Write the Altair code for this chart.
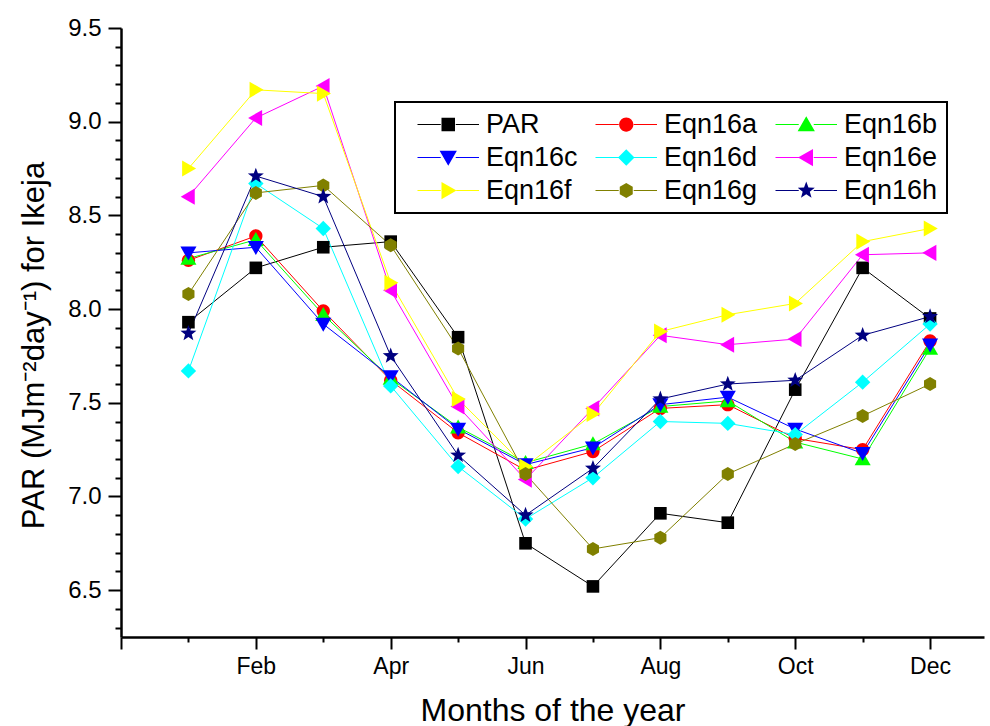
import math
import altair as alt
import pandas as pd

# ---------------- data ----------------
months = ["Jan", "Feb", "Mar", "Apr", "May", "Jun", "Jul", "Aug", "Sep", "Oct", "Nov", "Dec"]
month_num = list(range(1, 13))
series_names = ["PAR", "Eqn16a", "Eqn16b", "Eqn16c", "Eqn16d", "Eqn16e", "Eqn16f", "Eqn16g", "Eqn16h"]

par    = [7.93, 8.22, 8.33, 8.36, 7.85, 6.75, 6.52, 6.91, 6.86, 7.57, 8.22, 7.95]
eqn16a = [8.26, 8.39, 7.99, 7.62, 7.34, 7.14, 7.24, 7.47, 7.49, 7.31, 7.25, 7.83]
eqn16b = [8.27, 8.37, 7.97, 7.63, 7.37, 7.18, 7.28, 7.48, 7.51, 7.29, 7.20, 7.79]
eqn16c = [8.30, 8.33, 7.92, 7.64, 7.36, 7.17, 7.26, 7.49, 7.53, 7.36, 7.23, 7.81]
eqn16d = [7.67, 8.67, 8.43, 7.59, 7.16, 6.88, 7.10, 7.40, 7.39, 7.33, 7.61, 7.92]
eqn16e = [8.60, 9.02, 9.19, 8.10, 7.48, 7.09, 7.47, 7.86, 7.81, 7.84, 8.29, 8.30]
eqn16f = [8.75, 9.17, 9.15, 8.14, 7.52, 7.16, 7.44, 7.88, 7.97, 8.03, 8.36, 8.43]
eqn16g = [8.08, 8.62, 8.66, 8.34, 7.79, 7.12, 6.72, 6.78, 7.12, 7.28, 7.43, 7.60]
eqn16h = [7.87, 8.71, 8.60, 7.75, 7.22, 6.90, 7.15, 7.52, 7.60, 7.62, 7.86, 7.96]

series_values = [par, eqn16a, eqn16b, eqn16c, eqn16d, eqn16e, eqn16f, eqn16g, eqn16h]
colors = ["#000000", "#FF0000", "#00FF00", "#0000FF", "#00FFFF",
          "#FF00FF", "#FFFF00", "#808000", "#000080"]

x_major = [0, 2, 4, 6, 8, 10, 12]
x_minor = [1, 3, 5, 7, 9, 11]
y_major = [6.5, 7.0, 7.5, 8.0, 8.5, 9.0, 9.5]
y_minor = [round(6.3 + 0.1 * i, 1) for i in range(32) if round(6.3 + 0.1 * i, 1) not in y_major]

rows = []
for name, vals in zip(series_names, series_values):
    for m, v in zip(month_num, vals):
        rows.append({"series": name, "month": m, "value": v})
df = pd.DataFrame(rows)

# ---------------- marker shapes (unit box) ----------------
def poly(pts, dx=0.0):
    return "M" + "L".join(f"{x + dx:.3f},{y:.3f}" for x, y in pts) + "Z"

star_pts = []
for k in range(10):
    ang = -math.pi / 2 + k * math.pi / 5
    rr = 1.2 if k % 2 == 0 else 0.5
    star_pts.append((rr * math.cos(ang), rr * math.sin(ang)))

sq_pts = [(-0.9, -0.9), (0.9, -0.9), (0.9, 0.9), (-0.9, 0.9)]
tu_pts = [(0, -1.1), (1.15, 0.9), (-1.15, 0.9)]
td_pts = [(0, 1.1), (1.15, -0.9), (-1.15, -0.9)]
di_pts = [(0, -1.1), (1.1, 0), (0, 1.1), (-1.1, 0)]
tl_pts = [(-1.1, 0), (0.9, -1.15), (0.9, 1.15)]
tr_pts = [(1.1, 0), (-0.9, -1.15), (-0.9, 1.15)]
hx_pts = [(0, -1.0), (0.866, -0.5), (0.866, 0.5), (0, 1.0), (-0.866, 0.5), (-0.866, -0.5)]


def circle(dx=0.0):
    return (f"M{-0.95 + dx:.3f},0A0.95,0.95,0,1,0,{0.95 + dx:.3f},0"
            f"A0.95,0.95,0,1,0,{-0.95 + dx:.3f},0Z")


shape_defs = [sq_pts, None, tu_pts, td_pts, di_pts, tl_pts, tr_pts, hx_pts, star_pts]


def marker(i, dx=0.0):
    return circle(dx) if shape_defs[i] is None else poly(shape_defs[i], dx)


markers = [marker(i) for i in range(9)]

# legend symbol: line - marker - line, shifted right so it starts at the entry origin
H = 4.1
seg = (poly([(-H, -0.07), (-1.0, -0.07), (-1.0, 0.07), (-H, 0.07)], H) + " " +
       poly([(1.0, -0.07), (H, -0.07), (H, 0.07), (1.0, 0.07)], H))
legend_markers = [seg + " " + marker(i, H) for i in range(9)]

# ---------------- chart ----------------
label_expr = "datum.value == 0 ? '' : " + str(months) + "[datum.value - 1]"
xscale = alt.Scale(domain=[0, 12.8], nice=False, zero=False)
yscale = alt.Scale(domain=[6.25, 9.5], nice=False, zero=False)
sans = "Liberation Sans, Arial"

lines = alt.Chart(df).mark_line(strokeWidth=1, clip=True).encode(
    x=alt.X("month:Q", scale=xscale,
            axis=alt.Axis(values=x_major, labelExpr=label_expr, orient="bottom",
                          title="Months of the year", titleFont=sans, titleFontSize=32,
                          titleFontWeight="normal", titlePadding=17,
                          labelFont=sans, labelFontSize=23, labelPadding=6,
                          tickSize=12, grid=False)),
    y=alt.Y("value:Q", scale=yscale,
            axis=alt.Axis(values=y_major, format=".1f", orient="left",
                          title="PAR (MJm⁻²day⁻¹) for Ikeja", titleFont=sans,
                          titleFontSize=31, titleFontWeight="normal", titlePadding=17,
                          titleY=317,
                          labelFont=sans, labelFontSize=24, labelPadding=7,
                          tickSize=13, grid=False)),
    color=alt.Color("series:N", scale=alt.Scale(domain=series_names, range=colors), legend=None),
    detail="series:N",
)

minor = alt.Chart(df).mark_point(opacity=0).encode(
    x=alt.X("month:Q", scale=xscale,
            axis=alt.Axis(values=x_minor, labels=False, domain=False, tickSize=5,
                          title=None, orient="bottom", grid=False)),
    y=alt.Y("value:Q", scale=yscale,
            axis=alt.Axis(values=y_minor, labels=False, domain=False, tickSize=6,
                          title=None, orient="left", grid=False)),
)

points = alt.Chart(df).mark_point(filled=True, opacity=1, size=196, strokeWidth=0, clip=True).encode(
    x=alt.X("month:Q", scale=xscale, axis=None),
    y=alt.Y("value:Q", scale=yscale, axis=None),
    color=alt.Color("series:N", scale=alt.Scale(domain=series_names, range=colors), legend=None),
    shape=alt.Shape("series:N", scale=alt.Scale(domain=series_names, range=markers), legend=None),
)

leg = alt.Legend(title=None, orient="none", legendX=274, legendY=74, columns=3,
                 direction="horizontal", gridAlign="none",
                 symbolSize=225, symbolStrokeWidth=0,
                 labelFont=sans, labelFontSize=27, labelColor="black",
                 labelOffset=55, columnPadding=4, rowPadding=5, padding=9,
                 strokeColor="black", labelLimit=0)

legend_layer = alt.Chart(df).mark_point(filled=True, opacity=1, size=225, clip=True).encode(
    x=alt.value(-2000),
    y=alt.value(-2000),
    color=alt.Color("series:N", scale=alt.Scale(domain=series_names, range=colors), legend=leg),
    shape=alt.Shape("series:N", scale=alt.Scale(domain=series_names, range=legend_markers), legend=leg),
)

chart = alt.layer(lines, minor, points, legend_layer).resolve_scale(
    color="independent", shape="independent"
).resolve_axis(
    x="independent", y="independent"
).properties(
    width=863, height=609,
    autosize=alt.AutoSizeParams(type="none"),
    padding={"left": 121, "top": 28, "right": 6, "bottom": 89},
).configure_view(
    stroke=None
).configure_axis(
    domainColor="black", domainWidth=2.5, tickColor="black", tickWidth=2,
    labelColor="black", titleColor="black",
).configure_legend(
    strokeWidth=2
)

chart.save("out.html", embed_options={"renderer": "svg", "actions": False})
